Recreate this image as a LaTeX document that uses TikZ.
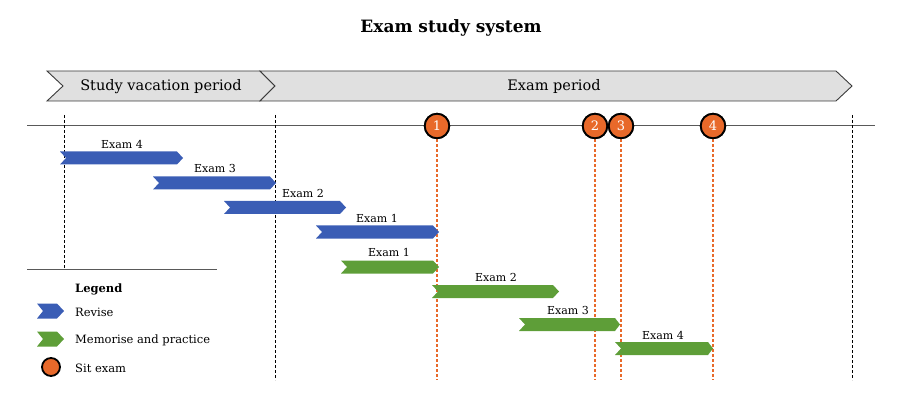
\documentclass[tikz,border=0pt]{standalone}
\usepackage{fontspec}
\setmainfont{DejaVu Serif}
\definecolor{revblue}{HTML}{3A5DB5}
\definecolor{memgreen}{HTML}{5E9E38}
\definecolor{examorange}{HTML}{E8692A}
\definecolor{bandgray}{HTML}{E0E0E0}
\definecolor{bandedge}{HTML}{3A3A3A}
\tikzset{
  band/.style={fill=bandgray, draw=bandedge, line width=0.9pt, line join=miter},
  rev/.style={fill=revblue},
  mem/.style={fill=memgreen},
  exammark/.style={circle, fill=examorange, draw=black, line width=1.8pt, minimum size=24.5pt, inner sep=0pt, text=white, font=\fontsize{13}{15}\selectfont},
  legendmark/.style={circle, fill=examorange, draw=black, line width=1.8pt, minimum size=18pt, inner sep=0pt},
  barlabel/.style={font=\fontsize{11}{13}\selectfont, inner sep=0pt},
  legendtext/.style={font=\fontsize{11.5}{14}\selectfont, anchor=west, inner sep=0pt},
  bandtext/.style={font=\fontsize{14.5}{17}\selectfont, inner sep=0pt},
  guide/.style={black, line width=1pt, dash pattern=on 3pt off 2pt},
  examguide/.style={draw=examorange, line width=1.1pt, dash pattern=on 3pt off 2pt},
  rule/.style={draw=black!65, line width=0.9pt}
}
% style, x1, x2, ycenter, halfheight, notch, tip
\newcommand\chevbar[7]{%
  \fill[#1] (#2,{#4-#5}) -- ({#3-#7},{#4-#5}) -- (#3,#4) -- ({#3-#7},{#4+#5}) -- (#2,{#4+#5}) -- ({#2+#6},#4) -- cycle;}
\begin{document}
\begin{tikzpicture}[x=1pt,y=-1pt]
\useasboundingbox (0,0) rectangle (902,406);

% title
\node[font=\bfseries\fontsize{17}{20}\selectfont] (title) at (451,28) {Exam study system};

% band
\draw[band] (47,71) -- (260,71) -- (275,86) -- (260,101) -- (47,101) -- (63,86) -- cycle;
\draw[band] (260,71) -- (836,71) -- (852,86) -- (836,101) -- (260,101) -- (275,86) -- cycle;
\node[bandtext] (svp) at (161,87) {Study vacation period};
\node[bandtext] (ep) at (554,87) {Exam period};

% timeline
\coordinate (tlL) at (27,125);
\coordinate (tlR) at (875,125);
\draw[rule] (tlL) -- (tlR);

% black guides
\coordinate (g1t) at (64,115); \coordinate (g1b) at (64,268);
\coordinate (g2t) at (275,115); \coordinate (g2b) at (275,380);
\coordinate (g3t) at (852,115); \coordinate (g3b) at (852,380);
\draw[guide] (g1t) -- (g1b);
\draw[guide] (g2t) -- (g2b);
\draw[guide] (g3t) -- (g3b);

% exam markers
\coordinate (e1b) at (437,380);
\coordinate (e2b) at (595,380);
\coordinate (e3b) at (621,380);
\coordinate (e4b) at (713,380);
\node[exammark] (e1) at (437,126) {};
\node[exammark] (e2) at (595,126) {};
\node[exammark] (e3) at (621,126) {};
\node[exammark] (e4) at (713,126) {};
\draw[examguide] (e1.south) -- (e1b);
\draw[examguide] (e2.south) -- (e2b);
\draw[examguide] (e3.south) -- (e3b);
\draw[examguide] (e4.south) -- (e4b);

% revise bars
\chevbar{rev}{60}{183}{158}{6.5}{6}{6}
\chevbar{rev}{153}{276}{183}{6.5}{6}{6}
\chevbar{rev}{224}{346}{207.5}{6.5}{6}{6}
\chevbar{rev}{316}{439}{232}{6.5}{6}{6}
\node[barlabel] (r4) at (122,144) {Exam 4};
\node[barlabel] (r3) at (215,168) {Exam 3};
\node[barlabel] (r2) at (303,193) {Exam 2};
\node[barlabel] (r1) at (377,218) {Exam 1};

% memorise bars
\chevbar{mem}{341}{439}{267}{6.5}{6}{6}
\chevbar{mem}{432}{559}{291.5}{6.5}{6}{6}
\chevbar{mem}{519}{620}{324.5}{6.5}{6}{5}
\chevbar{mem}{615}{713}{348.5}{6.5}{6}{5}
\node[barlabel] (m1) at (389,252) {Exam 1};
\node[barlabel] (m2) at (496,277) {Exam 2};
\node[barlabel] (m3) at (568,310) {Exam 3};
\node[barlabel] (m4) at (663,335) {Exam 4};

% marker circles on top of bars
\node[exammark] at (e1) {1};
\node[exammark] at (e2) {2};
\node[exammark] at (e3) {3};
\node[exammark] at (e4) {4};

% legend
\coordinate (lgL) at (27,269);
\coordinate (lgR) at (217,269);
\draw[rule] (lgL) -- (lgR);
\node[legendtext, font=\bfseries\fontsize{11.5}{14}\selectfont] (lg) at (75,289) {Legend};
\chevbar{rev}{37}{64}{311}{7.5}{6}{7}
\chevbar{mem}{37}{64}{339}{7.5}{6}{7}
\node[legendmark] (lgc) at (51,367) {};
\node[legendtext] (lr) at (75,312) {Revise};
\node[legendtext] (lm) at (75,340) {Memorise and practice};
\node[legendtext] (ls) at (75,368) {Sit exam};
\end{tikzpicture}
\end{document}
